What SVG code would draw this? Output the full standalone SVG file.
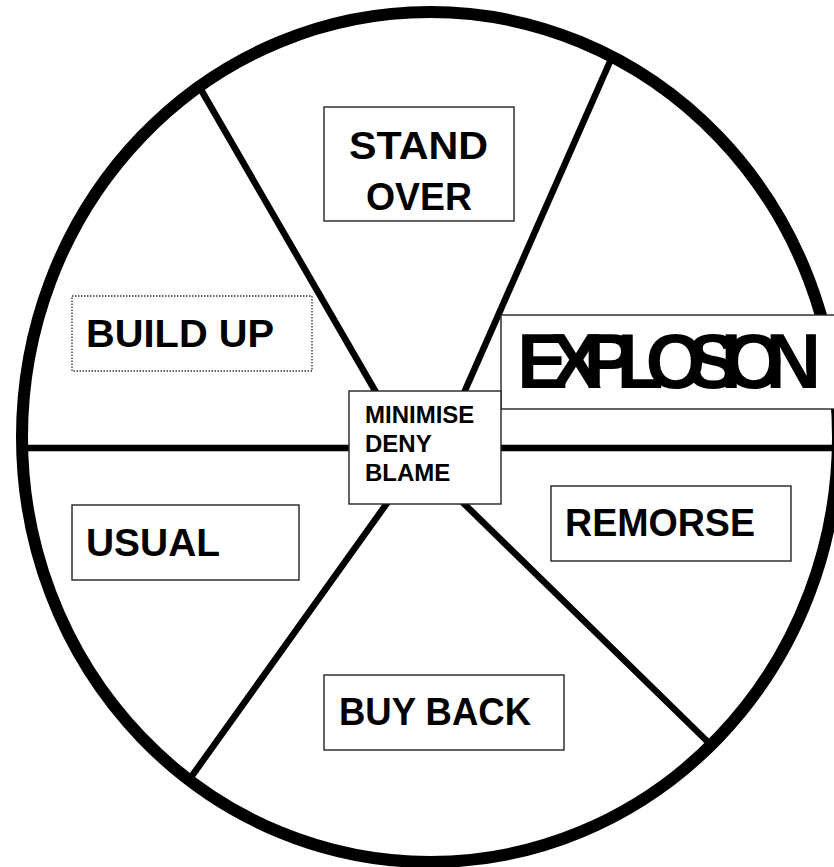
<svg xmlns="http://www.w3.org/2000/svg" width="834" height="867" viewBox="0 0 834 867">
<style>
.spoke{stroke:#000;stroke-width:6.5;fill:none}
.rim{stroke:#000;stroke-width:12;fill:none}
.box{fill:#fff;stroke:#222;stroke-width:1.4}
.dot{fill:#fff;stroke:#333;stroke-width:1.3;stroke-dasharray:1.5 1.5}
.lbl{font-family:"Comic Sans MS","Liberation Sans",sans-serif;font-weight:bold;font-size:39px;fill:#000}
.ctr{font-family:"Liberation Sans",Arial,sans-serif;font-weight:bold;font-size:24px;fill:#000}
.exp{font-family:"Liberation Sans",Arial,sans-serif;font-weight:bold;font-size:77px;fill:#000}
</style>
<rect width="834" height="867" fill="#fff"/>
<g id="connectors">
<line class="spoke" x1="200" y1="88" x2="392" y2="420"/>
<line class="spoke" x1="612" y1="57" x2="452" y2="420"/>
<line class="spoke" x1="189" y1="780" x2="400" y2="485"/>
<line class="spoke" x1="711" y1="745" x2="450" y2="490"/>
<line class="spoke" x1="22" y1="448" x2="845" y2="448"/>
</g>
<ellipse id="wheel" class="rim" cx="430" cy="437" rx="408" ry="425"/>
<g id="stand-over">
<rect class="box" x="324" y="107" width="190" height="114"/>
<text class="lbl" x="349" y="159" textLength="139" lengthAdjust="spacingAndGlyphs">STAND</text>
<text class="lbl" x="366" y="210" textLength="106" lengthAdjust="spacingAndGlyphs">OVER</text>
</g>
<g id="build-up">
<rect class="dot" x="72" y="296" width="240" height="75"/>
<text class="lbl" x="86" y="347" textLength="188" lengthAdjust="spacingAndGlyphs">BUILD UP</text>
</g>
<g id="explosion">
<rect class="box" x="501" y="315" width="360" height="94"/>
<text class="exp" x="517" y="388" textLength="304" lengthAdjust="spacing">EXPLOSION</text>
</g>
<g id="center">
<rect class="box" x="349" y="391" width="152" height="113"/>
<text class="ctr" x="365" y="423">MINIMISE</text>
<text class="ctr" x="365" y="452">DENY</text>
<text class="ctr" x="365" y="481">BLAME</text>
</g>
<g id="usual">
<rect class="box" x="72" y="505" width="227" height="75"/>
<text class="lbl" x="86" y="556" textLength="134" lengthAdjust="spacingAndGlyphs">USUAL</text>
</g>
<g id="remorse">
<rect class="box" x="551" y="486" width="240" height="75"/>
<text class="lbl" x="565" y="536" textLength="190" lengthAdjust="spacingAndGlyphs">REMORSE</text>
</g>
<g id="buy-back">
<rect class="box" x="324" y="675" width="240" height="75"/>
<text class="lbl" x="339" y="725" textLength="192" lengthAdjust="spacingAndGlyphs">BUY BACK</text>
</g>
</svg>
